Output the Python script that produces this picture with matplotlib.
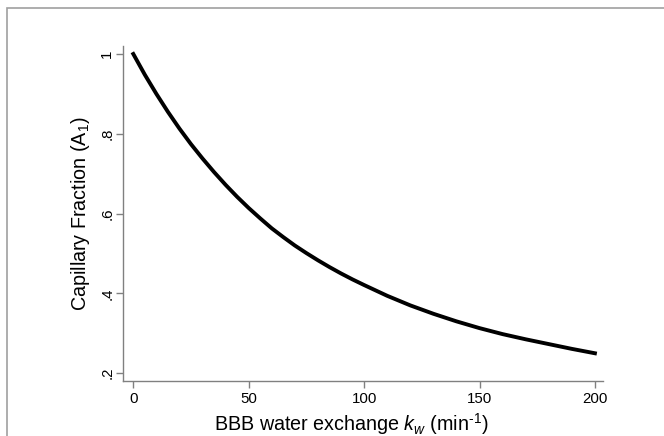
import matplotlib
matplotlib.use("Agg")
import matplotlib.pyplot as plt
from matplotlib.patches import Rectangle

plt.rcParams['font.family'] = ['Liberation Sans', 'DejaVu Sans']
plt.rcParams['mathtext.fontset'] = 'custom'
plt.rcParams['mathtext.rm'] = 'Liberation Sans'
plt.rcParams['mathtext.it'] = 'Liberation Sans:italic'
plt.rcParams['mathtext.bf'] = 'Liberation Sans:bold'

# Data
kw = [0, 5, 10, 15, 20, 25, 30, 35, 40, 45, 50, 55, 60, 65, 70, 75, 80,
      85, 90, 95, 100, 110, 120, 130, 140, 150, 160, 170, 180, 190, 200]
A1 = [1.000, 0.948, 0.900, 0.855, 0.813, 0.774, 0.738, 0.704, 0.672, 0.642,
      0.614, 0.588, 0.563, 0.541, 0.520, 0.501, 0.483, 0.466, 0.450, 0.435,
      0.421, 0.394, 0.370, 0.349, 0.330, 0.313, 0.298, 0.285, 0.273, 0.261,
      0.250]
xticks = [0, 50, 100, 150, 200]
yticks = [0.2, 0.4, 0.6, 0.8, 1.0]
ytick_labels = ['.2', '.4', '.6', '.8', '1']

W, H = 664, 436
fig = plt.figure(figsize=(W / 100, H / 100), dpi=100)
fig.patch.set_facecolor('white')

# outer gray frame
fig.patches.append(Rectangle((6.5 / W, -0.1), 1.2, 1 - 8.3 / H + 0.1,
                             transform=fig.transFigure, fill=False,
                             edgecolor='#a0a0a0', linewidth=1.2))

L, R, B, T = 123.3, 603, 381, 46
ax = fig.add_axes([L / W, 1 - B / H, (R - L) / W, (B - T) / H])
ax.plot(kw, A1, color='black', linewidth=2.8, solid_joinstyle='round')

ax.set_xlim(-4.33, 203.5)
ax.set_ylim(0.1805, 1.02)
ax.set_xticks(xticks)
ax.set_xticklabels([str(t) for t in xticks])
ax.set_yticks(yticks)
ax.set_yticklabels(ytick_labels, rotation=90, va='center')

for s in ['top', 'right']:
    ax.spines[s].set_visible(False)
for s in ['left', 'bottom']:
    ax.spines[s].set_color('#808080')
    ax.spines[s].set_linewidth(1.0)

ax.tick_params(axis='both', colors='#808080', labelcolor='black',
               labelsize=10.8, length=5, width=1.0, direction='out')
ax.tick_params(axis='x', pad=3)
ax.tick_params(axis='y', pad=1.5)

ax.set_xlabel('BBB water exchange $k_w$ (min$^{\\mathregular{\u20101}}$)',
              fontsize=14.2)
ax.xaxis.set_label_coords((351 - L) / (R - L), -(431 - B) / (B - T))
ax.xaxis.label.set_va('baseline')
ax.set_ylabel(r'Capillary Fraction (A$_{\mathregular{1}}$)', fontsize=14.2)
ax.yaxis.set_label_coords(-(L - 80) / (R - L), 0.5)
ax.yaxis.label.set_va('center')

fig.savefig('out.png', dpi=100)
